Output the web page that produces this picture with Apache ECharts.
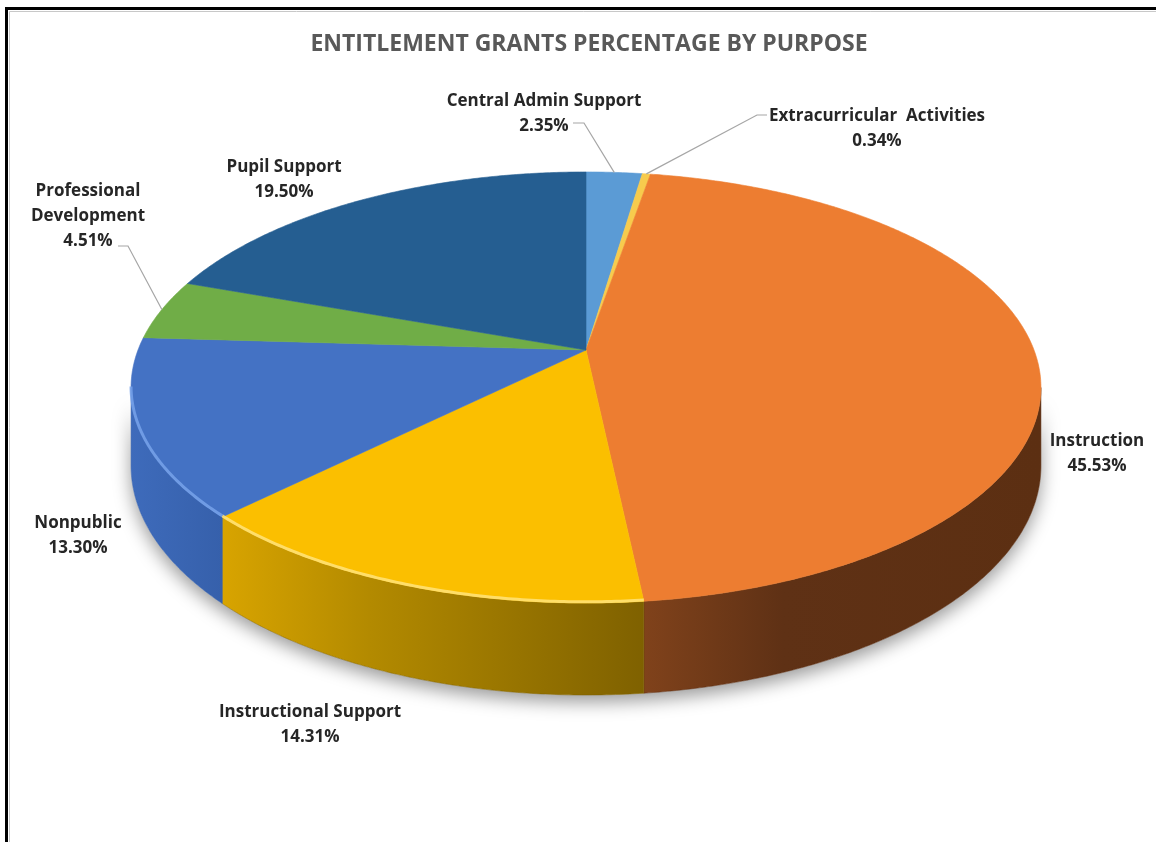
<!DOCTYPE html>
<html>
<head>
<meta charset="utf-8">
<script src="https://cdn.jsdelivr.net/npm/echarts@6/dist/echarts.min.js"></script>
<style>
html,body{margin:0;padding:0;background:#fff;}
#chart{width:1156px;height:842px;}
</style>
</head>
<body>
<div id="chart"></div>
<script>
// ---- data ----
const categories = ['Central Admin Support','Extracurricular Activities','Instruction','Instructional Support','Nonpublic','Professional Development','Pupil Support'];
const values = [2.35, 0.34, 45.53, 14.31, 13.30, 4.51, 19.50];
const labelNames = ['Central Admin Support','Extracurricular  Activities','Instruction','Instructional Support','Nonpublic','Professional\nDevelopment','Pupil Support'];
const titleText = 'ENTITLEMENT GRANTS PERCENTAGE BY PURPOSE';

// ---- styles / layout ----
const FONT = '"Open Sans"';
const topColors = ['#5B9BD5','#F7CB4D','#ED7D31','#FBBF00','#4472C4','#70AD47','#255E91'];
const sideColors = [
  ['#4a82b8','#3d6e9e'],
  ['#d8ad30','#b08a20'],
  ['#80421b','#5f3115','#5c2f12'],
  ['#d8a400','#b38a00','#7f6100'],
  ['#3e6bbb','#3660ab'],
  ['#5e9339','#4e7c2f'],
  ['#1f4f7a','#1a4468']
];
const rimLight = [null, null, null, '#ffe37a', '#77a2ea', null, null];
const labelPos = [[544,114],[877,129],[1097,454],[310,725],[78,536],[88,216],[284,180]];
const leaderStart = {0:[[573,123],[584,123]], 1:[[767,115],[757,115]], 5:[[118,246],[128,246]]};

const CX = 586, CY = 350, S = 448, ST = 209, K = 0.174, H = 76;
const TS = Math.asin(K);
const total = values.reduce((a,b)=>a+b,0);
const cumStart = [];
values.reduce((acc,v,i)=>{cumStart[i]=acc; return acc+v;},0);

function proj(t, dy){
  const c = Math.cos(t), s = Math.sin(t), d = 1 - K*s;
  return [CX + S*c/d, CY + ST*s/d + (dy||0)/d];
}
function arc(a, b, dy){
  const n = Math.max(2, Math.ceil((b-a)/(Math.PI/360)));
  const pts = [];
  for (let j=0;j<=n;j++){ pts.push(proj(a + (b-a)*j/n, dy)); }
  return pts;
}
function grad(cols){
  const stops = cols.map((c,i)=>({offset: cols.length===1?0:i/(cols.length-1), color:c}));
  if (cols.length===3) { stops[1].offset = 0.35; }
  return new echarts.graphic.LinearGradient(0,0,1,0,stops);
}

function renderItem(params, api){
  const i = params.dataIndex;
  const v = api.value(0);
  const a1 = -Math.PI/2 + 2*Math.PI*cumStart[i]/total;
  const a2 = a1 + 2*Math.PI*v/total;
  const children = [];
  if (i === 0){
    const body = arc(TS, Math.PI-TS, 0).concat(arc(TS, Math.PI-TS, H).reverse());
    children.push({type:'polygon', z2:-5, shape:{points:body},
      style:{fill:'#fff', shadowBlur:18, shadowColor:'rgba(0,0,0,0.4)', shadowOffsetY:7}});
  }
  const top = [[CX,CY]].concat(arc(a1,a2,0));
  children.push({type:'polygon', z2:10, shape:{points:top},
    style:{fill:topColors[i], stroke:topColors[i], lineWidth:0.6}});
  const lo = Math.max(a1, TS), hi = Math.min(a2, Math.PI-TS);
  if (lo < hi){
    const side = arc(lo,hi,0).concat(arc(lo,hi,H).reverse());
    children.push({type:'polygon', z2:0, shape:{points:side},
      style:{fill:grad(sideColors[i]), stroke:sideColors[i][sideColors[i].length-1], lineWidth:0.5}});
    if (rimLight[i]){
      children.push({type:'polyline', z2:11, shape:{points:arc(lo,hi,-1)},
        style:{stroke:rimLight[i], lineWidth:3, fill:null, opacity:0.85}});
    }
  }
  // label
  const lp = labelPos[i];
  const txt = labelNames[i] + '\n' + v.toFixed(2) + '%';
  children.push({type:'text', z2:30, style:{
    text: txt, x: lp[0], y: lp[1],
    align:'center', verticalAlign:'middle', textAlign:'center', textVerticalAlign:'middle',
    font:'bold 17px ' + FONT, fontFamily:FONT, fontSize:17, fontWeight:'bold',
    fill:'#262626', lineHeight:25
  }});
  if (leaderStart[i]){
    const mid = (a1+a2)/2;
    const pts = leaderStart[i].concat([proj(mid,0)]);
    children.push({type:'polyline', z2:31, shape:{points:pts},
      style:{stroke:'#a6a6a6', lineWidth:1.2, fill:null}});
  }
  return {type:'group', children};
}

const chart = echarts.init(document.getElementById('chart'));
chart.setOption({
  animation:false,
  backgroundColor:'#ffffff',
  title:{text:titleText, left:584, textAlign:'center', top:28,
    textStyle:{fontFamily:'Open Sans', fontSize:23, fontWeight:'bold', color:'#595959'}},
  graphic:[
    {type:'rect', z:100, shape:{x:6.5, y:8.5, width:1400, height:1000},
      style:{fill:'none', stroke:'#000', lineWidth:3}},
    {type:'rect', z:100, shape:{x:9.5, y:11.5, width:1400, height:1000},
      style:{fill:'none', stroke:'#c8c8c8', lineWidth:1}}
  ],
  series:[{
    type:'custom',
    coordinateSystem:'none',
    renderItem: renderItem,
    data: values.map((v,i)=>({name:categories[i], value:[v]}))
  }]
});
</script>
</body>
</html>
